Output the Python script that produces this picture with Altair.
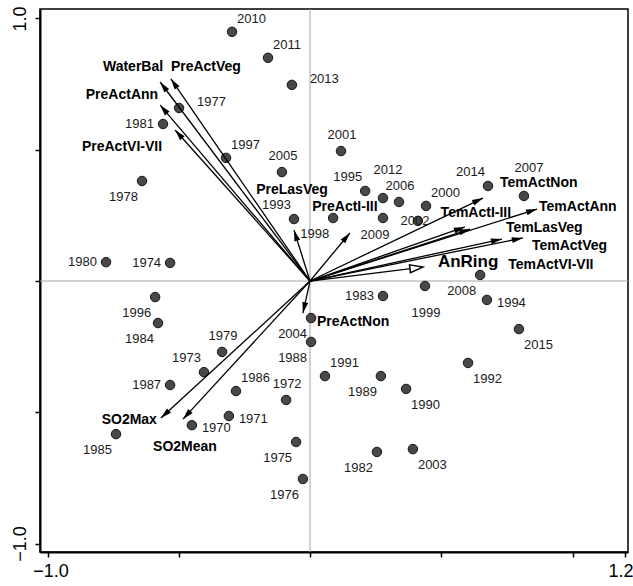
import altair as alt
import pandas as pd

# ---------------- data ----------------
years = [1970, 1971, 1972, 1973, 1974, 1975, 1976, 1977, 1978, 1979,
         1980, 1981, 1982, 1983, 1984, 1985, 1986, 1987, 1988, 1989,
         1990, 1991, 1992, 1993, 1994, 1995, 1996, 1997, 1998, 1999,
         2000, 2001, 2002, 2003, 2004, 2005, 2006, 2007, 2008, 2009,
         2010, 2011, 2012, 2013, 2014, 2015]
site_x = [-0.450, -0.309, -0.091, -0.404, -0.533, -0.053, -0.027, -0.499, -0.640, -0.335,
          -0.777, -0.560, 0.255, 0.278, -0.579, -0.739, -0.282, -0.533, 0.004, 0.270,
          0.366, 0.057, 0.602, -0.061, 0.674, 0.210, -0.590, -0.320, 0.088, 0.438,
          0.442, 0.118, 0.411, 0.392, 0.004, -0.107, 0.339, 0.815, 0.648, 0.278,
          -0.297, -0.160, 0.278, -0.069, 0.678, 0.796]
site_y = [-0.549, -0.514, -0.453, -0.347, 0.069, -0.613, -0.754, 0.659, 0.381, -0.270,
          0.072, 0.598, -0.651, -0.057, -0.160, -0.583, -0.419, -0.396, -0.232, -0.362,
          -0.411, -0.362, -0.312, 0.236, -0.072, 0.343, -0.061, 0.469, 0.240, -0.019,
          0.286, 0.495, 0.229, -0.640, -0.141, 0.415, 0.301, 0.324, 0.023, 0.240,
          0.949, 0.850, 0.316, 0.747, 0.362, -0.183]
# where each year label sits relative to its point (compass code)
site_label_side = ["E", "E", "N", "NW", "W", "SW", "SW", "ENE", "SW", "N",
                   "W", "W", "SW", "W", "SW", "SW", "NE", "W", "SW", "SW",
                   "SE", "NE", "SE", "NW", "E", "NW", "SW", "NE", "SW", "S2",
                   "NE", "N", "C", "SE", "SW", "N", "N", "N2", "SW", "S",
                   "NE", "NE", "N2", "ENE", "NW", "SE"]

var_names = ["WaterBal", "PreActVeg", "PreActAnn", "PreActVI-VII", "PreLasVeg",
             "PreActI-III", "TemActI-III", "TemActNon", "TemActAnn", "TemLasVeg",
             "TemActVeg", "TemActVI-VII", "AnRing", "SO2Max", "SO2Mean", "PreActNon"]
var_x = [-0.571, -0.530, -0.571, -0.514, -0.061, 0.152, 0.590, 0.659, 0.865, 0.811,
         0.731, 0.610, 0.430, -0.568, -0.484, -0.027]
var_y = [0.758, 0.770, 0.670, 0.575, 0.194, 0.183, 0.206, 0.316, 0.274, 0.164,
         0.160, 0.198, 0.053, -0.522, -0.526, -0.122]

x_ticks = [-1.0, -0.5, 0.0, 0.5, 1.0, 1.2]
y_ticks = [-1.0, -0.5, 0.0, 0.5, 1.0]
x_domain = [-1.0286, 1.2114]
y_domain = [-1.032, 1.036]

# ---------------- styles ----------------
FONT = "Liberation Sans"
side_style = {  # code: (align, dx, dy)
    "NE": ("left", 5, -13), "N": ("center", 1, -16), "N2": ("center", 5, -28),
    "E": ("left", 10, 3), "ENE": ("left", 18, -6), "W": ("right", -9, 0),
    "SW": ("right", -4, 16), "NW": ("right", -3, -14), "S": ("center", -8, 17),
    "S2": ("center", 1, 27), "SE": ("left", 5, 16), "C": ("center", -3, 0),
}
var_label_style = {  # name: (align, dx, dy)
    "WaterBal": ("right", 3, -15), "PreActVeg": ("left", 0, -12),
    "PreActAnn": ("right", -2, -10), "PreActVI-VII": ("right", -13, 17),
    "PreLasVeg": ("center", -2, -40), "PreActI-III": ("center", -5, -26),
    "TemActI-III": ("center", 11, -14), "TemActNon": ("left", 17, -15),
    "TemActAnn": ("left", 2, -2), "TemLasVeg": ("left", -17, -10),
    "TemActVeg": ("left", 30, 7), "TemActVI-VII": ("left", 38, 36),
    "AnRing": ("left", 15, -5), "SO2Max": ("right", -4, 2),
    "SO2Mean": ("center", 2, 28), "PreActNon": ("left", 14, 9),
}

sites = pd.DataFrame({"year": [str(y) for y in years], "x": site_x, "y": site_y,
                      "side": site_label_side})
vars_df = pd.DataFrame({"name": var_names, "x": var_x, "y": var_y})

xs = alt.Scale(domain=x_domain, nice=False, zero=False)
ys = alt.Scale(domain=y_domain, nice=False, zero=False)

xaxis = alt.Axis(values=x_ticks, format=".1f", title=None, grid=False,
                 labelExpr="(abs(datum.value + 1) < 1e-6 || abs(datum.value - 1.2) < 1e-6) ? datum.label : ''",
                 labelFontSize=18, labelFont=FONT, labelColor="black", labelFlush=False,
                 labelAlign={"condition": {"test": "datum.value > 1.1", "value": "right"}, "value": "center"},
                 labelOffset={"condition": {"test": "datum.value > 1.1", "value": 8}, "value": 3},
                 labelOverlap=False, labelPadding=5, tickSize=5, tickWidth=1.5, tickColor="black",
                 domainColor="black", domainWidth=2)
yaxis = alt.Axis(values=y_ticks, format=".1f", title=None, grid=False,
                 labelExpr="(abs(datum.value + 1) < 1e-6 || abs(datum.value - 1) < 1e-6) ? datum.label : ''",
                 labelFontSize=18, labelFont=FONT, labelColor="black", labelAngle=270,
                 labelAlign="center", labelBaseline="bottom", labelFlush=False,
                 labelOverlap=False, labelPadding=6, tickSize=5, tickWidth=1.5, tickColor="black",
                 domainColor="black", domainWidth=2)


def X(f):
    return alt.X(f, type="quantitative", scale=xs, axis=xaxis)


def Y(f):
    return alt.Y(f, type="quantitative", scale=ys, axis=yaxis)


zero = pd.DataFrame({"v": [0.0]})
vline = alt.Chart(zero).mark_rule(color="#a5a5a5", strokeWidth=1).encode(x=X("v"))
hline = alt.Chart(zero).mark_rule(color="#a5a5a5", strokeWidth=1).encode(y=Y("v"))

points = alt.Chart(sites).mark_circle(size=90, color="#484848", stroke="#151515",
                                      strokeWidth=1, opacity=1).encode(x=X("x"), y=Y("y"))

vbase = alt.Chart(vars_df).transform_calculate(
    x0="0", y0="0",
    ang="(atan2(datum.x, datum.y) * 180 / PI + 360) % 360")

lines = vbase.mark_rule(color="black", strokeWidth=1.3).encode(
    x=X("x0"), y=Y("y0"), x2="x:Q", y2="y:Q")

heads = vbase.transform_filter("datum.name != 'AnRing'").mark_point(
    shape="M0,0L0.6,2.2L-0.6,2.2Z", filled=True, color="black", size=100, opacity=1
).encode(x=X("x"), y=Y("y"), angle=alt.Angle("ang:Q", scale=None))

hollow = vbase.transform_filter("datum.name == 'AnRing'").mark_point(
    shape="M0,0L0.6,2L-0.6,2Z", filled=True, fill="white", stroke="black",
    strokeWidth=1.5, size=169, opacity=1
).encode(x=X("x"), y=Y("y"), angle=alt.Angle("ang:Q", scale=None))

layers = [vline, hline, points, lines, heads, hollow]

for code, (al, dx, dy) in side_style.items():
    layers.append(
        alt.Chart(sites).transform_filter(alt.datum.side == code).mark_text(
            align=al, baseline="middle", dx=dx, dy=dy, fontSize=13, font=FONT,
            color="#1a1a1a").encode(x=X("x"), y=Y("y"), text="year:N"))

for name, (al, dx, dy) in var_label_style.items():
    layers.append(
        alt.Chart(vars_df).transform_filter(alt.datum.name == name).mark_text(
            align=al, baseline="middle", dx=dx, dy=dy,
            fontSize=17 if name == "AnRing" else 14, fontWeight="bold", font=FONT,
            color="black").encode(x=X("x"), y=Y("y"), text="name:N"))

chart = alt.layer(*layers).properties(
    width=588, height=543,
    autosize=alt.AutoSizeParams(type="none"),
    padding={"left": 40, "top": 9, "right": 5, "bottom": 34},
    background="white",
).configure_view(stroke="black", strokeWidth=1.5)

chart.save("out.html", embed_options={"renderer": "svg", "actions": False})
